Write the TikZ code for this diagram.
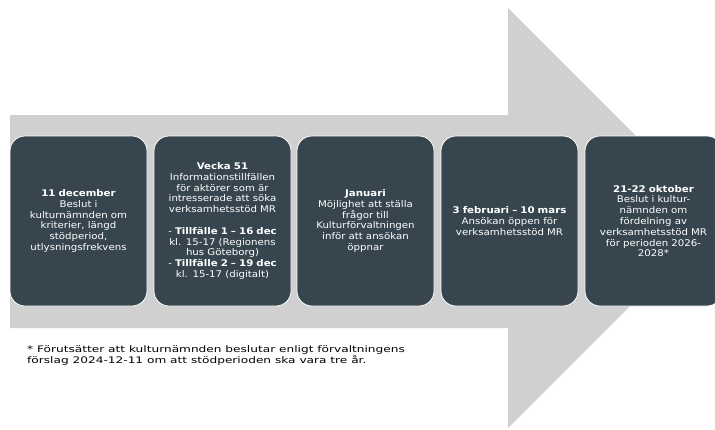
\documentclass[tikz,border=0pt]{standalone}
\usepackage{fontspec}
\setmainfont{DejaVu Sans}
\newfontfamily\boxfont[FakeStretch=1.11]{DejaVu Sans}
\newfontfamily\notefont[FakeStretch=1.35]{DejaVu Sans}
\definecolor{arrowgray}{HTML}{D0D0D1}
\definecolor{slate}{HTML}{36454E}
\begin{document}
\begin{tikzpicture}[x=1pt,y=-1pt,
  stagebox/.style={draw=white, line width=0.8pt, fill=slate, rounded corners=15pt,
    minimum width=137pt, minimum height=170pt, text width=134pt, align=center,
    text=white, inner sep=0pt, font=\boxfont\fontsize{9.2}{10.8}\selectfont},
  note/.style={anchor=north west, align=left, inner sep=0pt, font=\notefont\fontsize{9}{11.7}\selectfont}]
\useasboundingbox (0,0) rectangle (715,429);
\begin{scope}
\clip (0,0) rectangle (715,429);
\fill[arrowgray] (10,115) -- (508,115) -- (508,8) -- (718,218) -- (508,428) -- (508,328) -- (10,328) -- cycle;
\node[stagebox] (b1) at (78.5,221) {\textbf{11 december}\\Beslut i\\kulturnämnden om\\kriterier, längd\\stödperiod,\\utlysningsfrekvens};
\node[stagebox] (b2) at (222.5,221) {\textbf{Vecka 51}\\Informationstillfällen\\för aktörer som är\\intresserade att söka\\verksamhetsstöd MR\\[10.8pt]- \textbf{Tillfälle 1 – 16 dec}\\kl. 15-17 (Regionens\\hus Göteborg)\\- \textbf{Tillfälle 2 – 19 dec}\\kl. 15-17 (digitalt)};
\node[stagebox] (b3) at (365.5,221) {\textbf{Januari}\\Möjlighet att ställa\\frågor till\\Kulturförvaltningen\\inför att ansökan\\öppnar};
\node[stagebox] (b4) at (509.5,221) {\textbf{3 februari – 10 mars}\\Ansökan öppen för\\verksamhetsstöd MR};
\node[stagebox] (b5) at (653.5,221) {\textbf{21-22 oktober}\\Beslut i kultur-\\nämnden om\\fördelning av\\verksamhetsstöd MR\\för perioden 2026-\\2028*};
\end{scope}
\node[note] (fn) at (27,345) {* Förutsätter att kulturnämnden beslutar enligt förvaltningens\\förslag 2024-12-11 om att stödperioden ska vara tre år.};
\end{tikzpicture}
\end{document}
